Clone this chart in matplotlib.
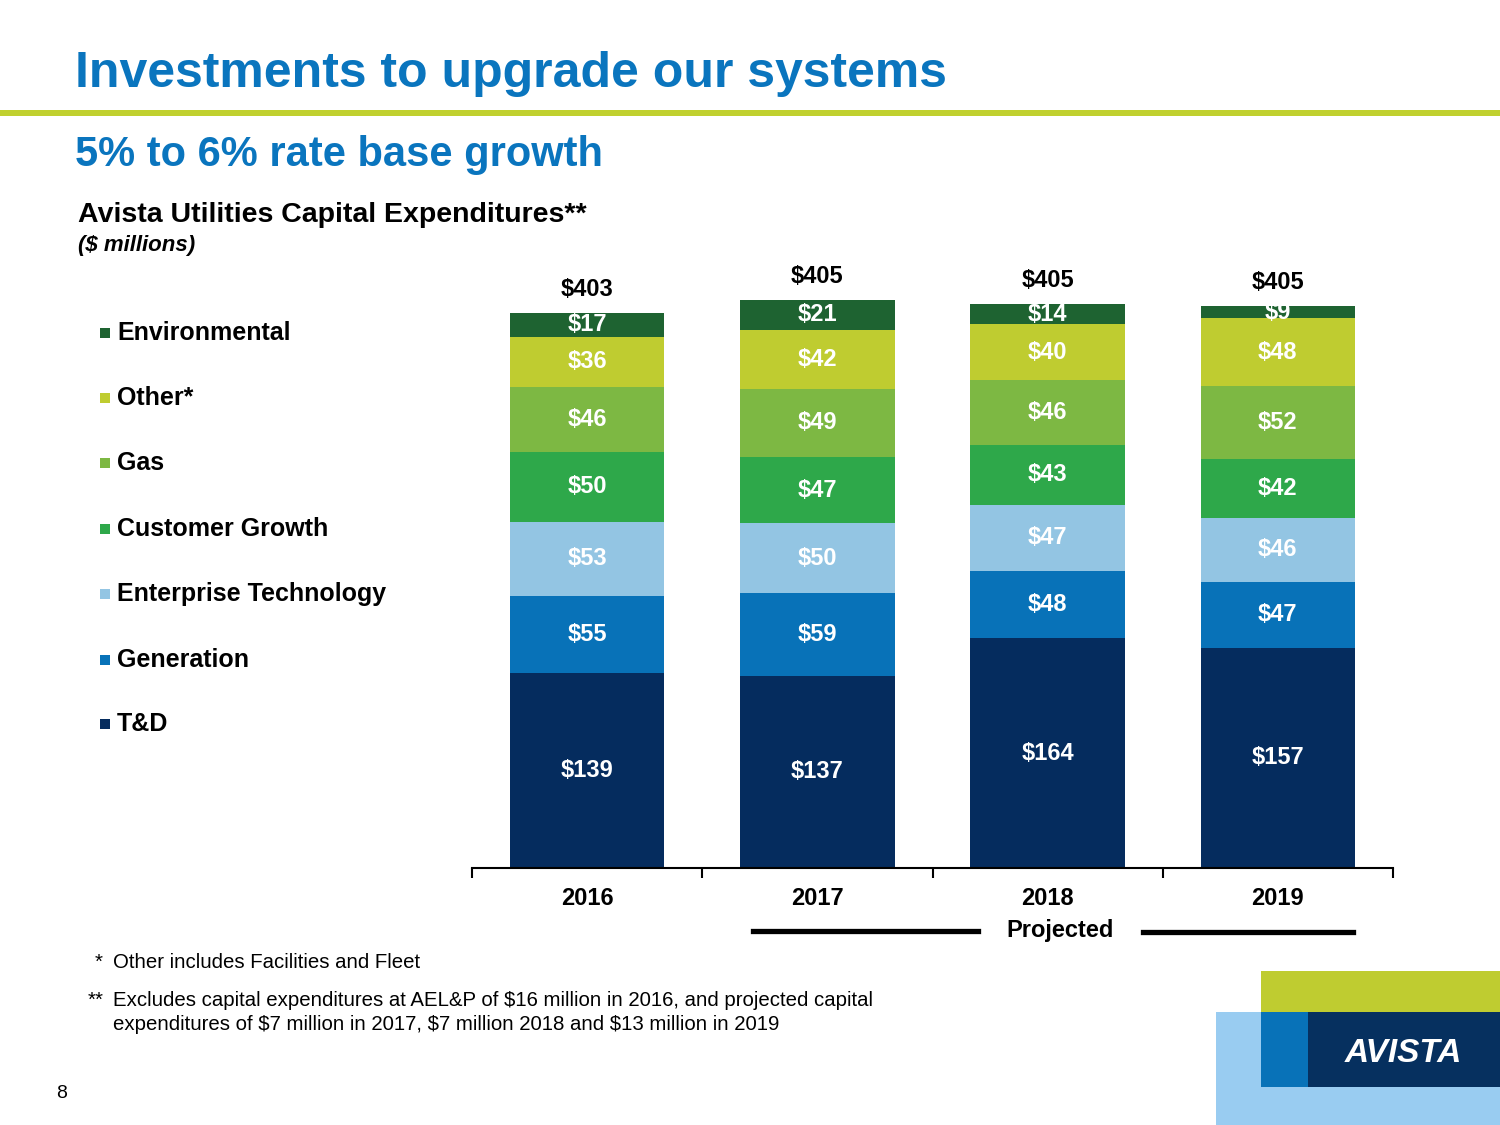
import matplotlib
matplotlib.use("Agg")
import matplotlib.pyplot as plt
from matplotlib.patches import Rectangle
from matplotlib.lines import Line2D
import numpy as np

plt.rcParams['font.family'] = ['Liberation Sans', 'DejaVu Sans']

years = ["2016", "2017", "2018", "2019"]
series = ["T&D", "Generation", "Enterprise Technology", "Customer Growth", "Gas", "Other*", "Environmental"]
values = {
    "T&D":                   [139, 137, 164, 157],
    "Generation":            [55, 59, 48, 47],
    "Enterprise Technology": [53, 50, 47, 46],
    "Customer Growth":       [50, 47, 43, 42],
    "Gas":                   [46, 49, 46, 52],
    "Other*":                [36, 42, 40, 48],
    "Environmental":         [17, 21, 14, 9],
}
totals = [403, 405, 405, 405]
colors = {
    "T&D": "#052C5E",
    "Generation": "#0872B8",
    "Enterprise Technology": "#93C5E3",
    "Customer Growth": "#2EA84A",
    "Gas": "#7DB843",
    "Other*": "#BFCC30",
    "Environmental": "#1E6331",
}

W, H = 1500, 1125
fig = plt.figure(figsize=(15, 11.25), dpi=100)

def fx(px): return px / W
def fy(py): return 1 - py / H

blue = "#0A75BE"
# Title and header
fig.text(fx(75), fy(74), "Investments to upgrade our systems", color=blue,
         fontsize=36, fontweight='bold', va='center', ha='left')
fig.add_artist(Rectangle((0, fy(116)), 1, 6 / H, transform=fig.transFigure,
                         color="#C0D02F", lw=0))
fig.text(fx(75), fy(155), "5% to 6% rate base growth", color=blue,
         fontsize=30, fontweight='bold', va='center', ha='left')
fig.text(fx(78), fy(215), "Avista Utilities Capital Expenditures**", color='black',
         fontsize=20.5, fontweight='bold', va='center', ha='left')
fig.text(fx(78), fy(245), "($ millions)", color='black',
         fontsize=16, fontweight='bold', style='italic', va='center', ha='left')

# Bars axes
ymax = 420
ppu = 1.402
ax_h = ymax * ppu
ax = fig.add_axes([fx(472), fy(868), fx(1393) - fx(472), ax_h / H])
x = np.arange(len(years))
bottom = np.zeros(len(years))
for s in series:
    v = np.array(values[s], dtype=float)
    ax.bar(x, v, bottom=bottom, width=0.67, color=colors[s], lw=0)
    for xi, (b, vi) in enumerate(zip(bottom, v)):
        ax.text(xi, b + vi / 2, f"${int(vi)}", color='white', fontsize=17,
                fontweight='bold', ha='center', va='center')
    bottom += v
for xi, (top, t) in enumerate(zip(bottom, totals)):
    ax.annotate(f"${t}", (xi, top), xytext=(0, 17), textcoords='offset points',
                ha='center', va='center', fontsize=17, fontweight='bold', color='black')

ax.set_xlim(-0.5, len(years) - 0.5)
ax.set_ylim(0, ymax)
for sp in ['top', 'right', 'left']:
    ax.spines[sp].set_visible(False)
ax.spines['bottom'].set_linewidth(1.5)
ax.set_yticks([])
ax.set_xticks(x)
ax.set_xticklabels(years, fontsize=17, fontweight='bold')
ax.tick_params(axis='x', which='major', length=0, pad=14)
ax.set_xticks(np.arange(-0.5, len(years), 1.0), minor=True)
ax.tick_params(axis='x', which='minor', length=7, width=1.5, direction='out')

# Projected marker
fig.text(fx(1060), fy(930), "Projected", fontsize=17, fontweight='bold',
         ha='center', va='center')
fig.add_artist(Line2D([fx(753), fx(978)], [fy(931), fy(931)], color='black', lw=3.8,
                      transform=fig.transFigure))
fig.add_artist(Line2D([fx(1143), fx(1353)], [fy(932), fy(932)], color='black', lw=3.8,
                      transform=fig.transFigure))

# Legend
leg_y = [724, 660, 594, 529, 463, 398, 333]
for s, ly in zip(series, leg_y):
    fig.add_artist(Rectangle((fx(100), fy(ly + 5)), 10 / W, 10 / H,
                             transform=fig.transFigure, color=colors[s], lw=0))
    fig.text(fx(117), fy(ly), s, fontsize=18, fontweight='bold', va='center', ha='left')

# Footnotes
fs = 14.7
fig.text(fx(95), fy(962), "*", fontsize=fs, va='center', ha='left')
fig.text(fx(113), fy(962), "Other includes Facilities and Fleet", fontsize=fs, va='center', ha='left')
fig.text(fx(88), fy(1000), "**", fontsize=fs, va='center', ha='left')
fig.text(fx(113), fy(1000), "Excludes capital expenditures at AEL&P of $16 million in 2016, and projected capital",
         fontsize=fs, va='center', ha='left')
fig.text(fx(113), fy(1024), "expenditures of $7 million in 2017, $7 million 2018 and $13 million in 2019",
         fontsize=fs, va='center', ha='left')
fig.text(fx(62), fy(1093), "8", fontsize=14, va='center', ha='center')

# Logo block
def rect(x0, y0, x1, y1, c):
    fig.add_artist(Rectangle((fx(x0), fy(y1)), (x1 - x0) / W, (y1 - y0) / H,
                             transform=fig.transFigure, color=c, lw=0))
rect(1216, 1012, 1500, 1125, "#99CCF1")
rect(1261, 971, 1500, 1012, "#BFCC30")
rect(1261, 1012, 1308, 1087, "#0872B8")
rect(1308, 1012, 1500, 1087, "#06305F")
fig.text(fx(1403), fy(1053), "AVISTA", color='white', fontsize=24, fontweight='bold',
         style='italic', ha='center', va='center')

fig.savefig("out.png", dpi=100)
